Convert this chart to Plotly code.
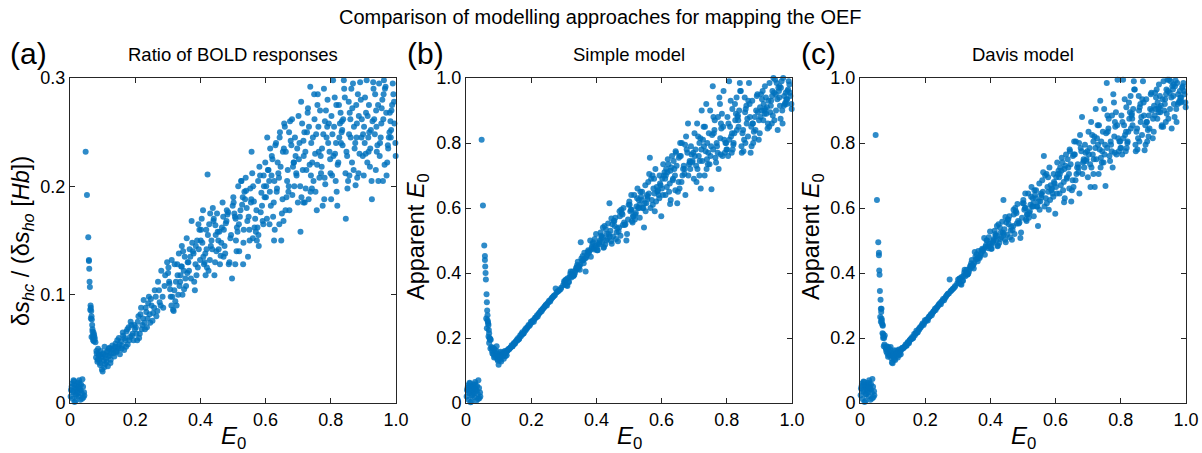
import plotly.graph_objects as go

# ---------------- data ----------------
e0 = [
    # low cluster
    0.003, 0.006, 0.008, 0.010, 0.012, 0.014, 0.016, 0.018, 0.020, 0.022,
    0.024, 0.026, 0.028, 0.030, 0.032, 0.034, 0.036, 0.038, 0.041, 0.044,
    0.002, 0.005, 0.009, 0.013, 0.017, 0.021, 0.025, 0.029, 0.033, 0.037,
    0.040, 0.043, 0.011, 0.019, 0.027,
    # spike
    0.048, 0.052, 0.056, 0.058, 0.058, 0.059, 0.060, 0.061, 0.063, 0.064,
    0.065, 0.066, 0.067, 0.068, 0.069, 0.070, 0.071, 0.072, 0.074, 0.076,
    0.062, 0.064, 0.066, 0.069, 0.071, 0.073, 0.075, 0.078,
    # knee cluster
    0.080, 0.082, 0.084, 0.086, 0.088, 0.090, 0.092, 0.094, 0.096, 0.098,
    0.100, 0.102, 0.104, 0.106, 0.108, 0.110, 0.113, 0.116, 0.119, 0.122,
    0.125, 0.128,
    0.081, 0.085, 0.089, 0.093, 0.097, 0.101, 0.105, 0.109, 0.112, 0.115,
    0.118, 0.121, 0.124, 0.127, 0.130,
    # 0.13-0.2
    0.132, 0.136, 0.140, 0.143, 0.147, 0.150, 0.153, 0.156, 0.160, 0.163,
    0.166, 0.170, 0.173, 0.177, 0.180, 0.184, 0.188, 0.192, 0.195, 0.199,
    0.134, 0.138, 0.142, 0.145, 0.149, 0.152, 0.158, 0.162, 0.168, 0.172,
    0.176, 0.182, 0.186, 0.190, 0.197,
    # 0.2-0.3
    0.202, 0.206, 0.210, 0.214, 0.218, 0.222, 0.226, 0.230, 0.234, 0.238,
    0.242, 0.246, 0.250, 0.255, 0.260, 0.265, 0.270, 0.275, 0.280, 0.286,
    0.292, 0.298,
    0.204, 0.208, 0.212, 0.216, 0.220, 0.224, 0.228, 0.232, 0.236, 0.240,
    0.244, 0.248, 0.253, 0.258, 0.263, 0.268, 0.273, 0.278, 0.284, 0.290,
    # 0.3-0.4
    0.309, 0.302, 0.316, 0.305, 0.312, 0.323, 0.330, 0.320, 0.334, 0.327,
    0.349, 0.338, 0.345, 0.352, 0.341, 0.356, 0.367, 0.360, 0.371, 0.363,
    0.383, 0.375, 0.392, 0.379, 0.388, 0.397,
    0.304, 0.311, 0.301, 0.314, 0.307, 0.329, 0.318, 0.325, 0.332, 0.321,
    0.336, 0.347, 0.339, 0.350, 0.343, 0.361, 0.354, 0.369, 0.358, 0.365,
    0.377, 0.385, 0.373, 0.386, 0.381, 0.394, 0.390, 0.399, 0.395, 0.343,
    # 0.4-0.5
    0.401, 0.411, 0.404, 0.415, 0.408, 0.425, 0.418, 0.432, 0.422, 0.429,
    0.440, 0.447, 0.436, 0.451, 0.443, 0.466, 0.455, 0.462, 0.470, 0.458,
    0.474, 0.487, 0.478, 0.492, 0.483, 0.497,
    0.409, 0.402, 0.416, 0.406, 0.413, 0.423, 0.430, 0.420, 0.434, 0.427,
    0.449, 0.438, 0.445, 0.453, 0.441, 0.456, 0.468, 0.460, 0.472, 0.464,
    0.485, 0.476, 0.494, 0.480, 0.489, 0.499, 0.419, 0.446, 0.471, 0.481,
    # 0.5-0.6
    0.504, 0.511, 0.501, 0.514, 0.507, 0.528, 0.518, 0.525, 0.532, 0.521,
    0.535, 0.546, 0.539, 0.550, 0.542, 0.561, 0.553, 0.568, 0.557, 0.564,
    0.575, 0.583, 0.572, 0.587, 0.579, 0.595, 0.591, 0.599,
    0.512, 0.502, 0.509, 0.516, 0.506, 0.519, 0.530, 0.523, 0.533, 0.526,
    0.544, 0.537, 0.551, 0.540, 0.548, 0.559, 0.566, 0.555, 0.570, 0.562,
    0.585, 0.573, 0.581, 0.589, 0.577, 0.593, 0.597, 0.508, 0.531, 0.556,
    0.578, 0.594,
    # 0.6-0.7
    0.602, 0.612, 0.605, 0.616, 0.609, 0.626, 0.619, 0.634, 0.623, 0.630,
    0.641, 0.648, 0.637, 0.652, 0.644, 0.666, 0.655, 0.662, 0.670, 0.659,
    0.673, 0.684, 0.677, 0.688, 0.681, 0.699, 0.692, 0.695,
    0.607, 0.601, 0.614, 0.604, 0.611, 0.621, 0.628, 0.618, 0.632, 0.625,
    0.646, 0.635, 0.643, 0.650, 0.639, 0.653, 0.664, 0.657, 0.668, 0.661,
    0.679, 0.671, 0.686, 0.675, 0.682, 0.690, 0.694, 0.697, 0.613, 0.627,
    0.642, 0.656, 0.672, 0.687,
    # 0.7-0.8
    0.704, 0.710, 0.701, 0.714, 0.707, 0.727, 0.717, 0.723, 0.730, 0.720,
    0.733, 0.743, 0.737, 0.747, 0.740, 0.757, 0.750, 0.763, 0.753, 0.760,
    0.770, 0.777, 0.767, 0.780, 0.773, 0.794, 0.783, 0.790, 0.798, 0.787,
    0.702, 0.712, 0.706, 0.716, 0.709, 0.725, 0.719, 0.732, 0.722, 0.729,
    0.739, 0.745, 0.735, 0.749, 0.742, 0.762, 0.752, 0.759, 0.765, 0.755,
    0.769, 0.779, 0.772, 0.782, 0.775, 0.792, 0.785, 0.799, 0.789, 0.796,
    0.716, 0.738, 0.758, 0.781,
    # 0.8-0.9
    0.810, 0.801, 0.807, 0.813, 0.804, 0.817, 0.826, 0.820, 0.830, 0.823,
    0.840, 0.833, 0.846, 0.836, 0.843, 0.853, 0.860, 0.850, 0.863, 0.856,
    0.876, 0.866, 0.873, 0.880, 0.870, 0.883, 0.894, 0.886, 0.898, 0.890,
    0.808, 0.802, 0.815, 0.805, 0.812, 0.821, 0.828, 0.818, 0.831, 0.825,
    0.845, 0.835, 0.841, 0.848, 0.838, 0.851, 0.861, 0.855, 0.865, 0.858,
    0.875, 0.868, 0.881, 0.871, 0.878, 0.888, 0.895, 0.885, 0.899, 0.892,
    0.816, 0.834, 0.857, 0.879,
    # 0.9-1.0
    0.904, 0.910, 0.901, 0.913, 0.907, 0.926, 0.917, 0.923, 0.930, 0.920,
    0.933, 0.943, 0.936, 0.946, 0.940, 0.956, 0.950, 0.963, 0.953, 0.960,
    0.970, 0.976, 0.966, 0.980, 0.973, 0.994, 0.983, 0.990, 0.998, 0.986,
    0.902, 0.912, 0.905, 0.915, 0.908, 0.925, 0.918, 0.931, 0.921, 0.928,
    0.938, 0.945, 0.935, 0.948, 0.941, 0.961, 0.951, 0.958, 0.965, 0.955,
    0.968, 0.978, 0.971, 0.981, 0.975, 0.992, 0.985, 0.999, 0.988, 0.995,
    0.916, 0.939, 0.962, 0.984,
]

ratio_bold = [
    # low cluster
    0.012, 0.018, 0.004, 0.010, 0.020, 0.001, 0.014, 0.008, 0.016, 0.011,
    0.019, 0.006, 0.021, 0.013, 0.003, 0.017, 0.009, 0.022, 0.005, 0.007,
    0.006, 0.015, 0.011, 0.017, 0.002, 0.013, 0.009, 0.018, 0.012, 0.004,
    0.015, 0.010, 0.021, 0.007, 0.014,
    # spike
    0.232, 0.192, 0.153, 0.132, 0.131, 0.124, 0.112, 0.107, 0.090, 0.088,
    0.085, 0.080, 0.077, 0.072, 0.066, 0.062, 0.060, 0.065, 0.063, 0.059,
    0.086, 0.078, 0.061, 0.068, 0.058, 0.057, 0.061, 0.056,
    # knee
    0.042, 0.046, 0.038, 0.050, 0.044, 0.040, 0.035, 0.048, 0.043, 0.031,
    0.029, 0.045, 0.039, 0.052, 0.036, 0.041, 0.047, 0.034, 0.050, 0.044,
    0.040, 0.049,
    0.048, 0.040, 0.045, 0.037, 0.042, 0.046, 0.033, 0.044, 0.038, 0.048,
    0.043, 0.051, 0.037, 0.046, 0.053,
    # 0.13-0.2
    0.050, 0.043, 0.055, 0.047, 0.052, 0.060, 0.045, 0.057, 0.053, 0.062,
    0.049, 0.058, 0.066, 0.054, 0.070, 0.061, 0.072, 0.064, 0.058, 0.068,
    0.046, 0.052, 0.048, 0.058, 0.050, 0.054, 0.050, 0.065, 0.060, 0.052,
    0.068, 0.058, 0.075, 0.062, 0.072,
    # 0.2-0.3
    0.070, 0.058, 0.080, 0.064, 0.088, 0.072, 0.095, 0.068, 0.084, 0.078,
    0.098, 0.074, 0.090, 0.083, 0.104, 0.080, 0.112, 0.093, 0.122, 0.088,
    0.118, 0.130,
    0.064, 0.075, 0.060, 0.082, 0.068, 0.078, 0.074, 0.088, 0.070, 0.092,
    0.082, 0.096, 0.076, 0.088, 0.098, 0.085, 0.104, 0.090, 0.098, 0.108,
    # 0.3-0.4
    0.098, 0.125, 0.086, 0.110, 0.132, 0.094, 0.118, 0.104, 0.138, 0.090,
    0.122, 0.112, 0.100, 0.135, 0.126, 0.108, 0.142, 0.120, 0.115, 0.130,
    0.104, 0.148, 0.125, 0.138, 0.118, 0.160,
    0.112, 0.090, 0.120, 0.098, 0.105, 0.128, 0.085, 0.112, 0.100, 0.128,
    0.108, 0.140, 0.118, 0.105, 0.145, 0.130, 0.115, 0.135, 0.152, 0.122,
    0.140, 0.128, 0.168, 0.145, 0.112, 0.165, 0.150, 0.132, 0.142, 0.126,
    # 0.4-0.5
    0.150, 0.128, 0.170, 0.138, 0.178, 0.122, 0.160, 0.145, 0.211, 0.132,
    0.168, 0.155, 0.142, 0.175, 0.118, 0.162, 0.150, 0.136, 0.172, 0.158,
    0.145, 0.128, 0.166, 0.152, 0.174, 0.115,
    0.135, 0.160, 0.118, 0.148, 0.130, 0.155, 0.175, 0.125, 0.150, 0.165,
    0.140, 0.180, 0.130, 0.158, 0.170, 0.142, 0.185, 0.128, 0.160, 0.148,
    0.176, 0.138, 0.155, 0.168, 0.130, 0.182, 0.142, 0.164, 0.135, 0.178,
    # 0.5-0.6
    0.175, 0.140, 0.190, 0.158, 0.128, 0.183, 0.165, 0.205, 0.148, 0.172,
    0.195, 0.135, 0.208, 0.160, 0.180, 0.152, 0.198, 0.170, 0.232, 0.186,
    0.162, 0.210, 0.178, 0.194, 0.145, 0.200, 0.168, 0.222,
    0.162, 0.185, 0.150, 0.200, 0.172, 0.140, 0.190, 0.178, 0.160, 0.205,
    0.168, 0.188, 0.150, 0.196, 0.172, 0.212, 0.162, 0.185, 0.158, 0.200,
    0.176, 0.150, 0.218, 0.182, 0.205, 0.165, 0.190, 0.170, 0.128, 0.188,
    0.155, 0.210,
    # 0.6-0.7
    0.200, 0.165, 0.245, 0.182, 0.215, 0.150, 0.228, 0.195, 0.172, 0.238,
    0.208, 0.150, 0.222, 0.188, 0.250, 0.205, 0.168, 0.232, 0.195, 0.255,
    0.178, 0.218, 0.242, 0.200, 0.262, 0.185, 0.228, 0.210,
    0.215, 0.190, 0.235, 0.170, 0.205, 0.225, 0.160, 0.210, 0.240, 0.185,
    0.218, 0.198, 0.245, 0.175, 0.212, 0.232, 0.190, 0.258, 0.215, 0.178,
    0.238, 0.200, 0.222, 0.260, 0.192, 0.245, 0.212, 0.235, 0.195, 0.205,
    0.165, 0.235, 0.250, 0.222,
    # 0.7-0.8
    0.240, 0.190, 0.265, 0.215, 0.158, 0.250, 0.228, 0.198, 0.272, 0.185,
    0.255, 0.222, 0.292, 0.205, 0.240, 0.178, 0.262, 0.232, 0.195, 0.285,
    0.212, 0.248, 0.270, 0.188, 0.235, 0.258, 0.202, 0.280, 0.225, 0.245,
    0.225, 0.258, 0.200, 0.242, 0.278, 0.215, 0.250, 0.188, 0.232, 0.268,
    0.210, 0.245, 0.220, 0.285, 0.198, 0.255, 0.230, 0.275, 0.208, 0.248,
    0.228, 0.290, 0.218, 0.260, 0.182, 0.240, 0.270, 0.212, 0.255, 0.232,
    0.185, 0.195, 0.220, 0.208,
    # 0.8-0.9
    0.255, 0.188, 0.298, 0.230, 0.210, 0.275, 0.245, 0.182, 0.268, 0.222,
    0.298, 0.250, 0.170, 0.238, 0.282, 0.205, 0.262, 0.228, 0.290, 0.248,
    0.201, 0.272, 0.235, 0.258, 0.215, 0.285, 0.245, 0.265, 0.228, 0.296,
    0.228, 0.265, 0.205, 0.248, 0.282, 0.220, 0.258, 0.195, 0.240, 0.275,
    0.212, 0.252, 0.290, 0.232, 0.262, 0.198, 0.245, 0.278, 0.222, 0.268,
    0.240, 0.295, 0.208, 0.255, 0.275, 0.230, 0.262, 0.212, 0.248, 0.280,
    0.240, 0.260, 0.210, 0.245,
    # 0.9-1.0
    0.240, 0.298, 0.210, 0.265, 0.230, 0.188, 0.275, 0.252, 0.296, 0.218,
    0.262, 0.238, 0.285, 0.205, 0.255, 0.272, 0.228, 0.298, 0.245, 0.205,
    0.268, 0.235, 0.290, 0.250, 0.222, 0.278, 0.260, 0.295, 0.240, 0.270,
    0.255, 0.222, 0.282, 0.245, 0.268, 0.205, 0.250, 0.290, 0.235, 0.260,
    0.215, 0.275, 0.248, 0.295, 0.232, 0.262, 0.240, 0.280, 0.220, 0.258,
    0.292, 0.245, 0.210, 0.268, 0.238, 0.285, 0.252, 0.228, 0.275, 0.258,
    0.232, 0.270, 0.285, 0.245,
]

simple_model = [
    # low cluster
    0.040, 0.055, 0.010, 0.030, 0.060, 0.002, 0.045, 0.025, 0.050, 0.035,
    0.058, 0.018, 0.065, 0.042, 0.008, 0.052, 0.028, 0.070, 0.015, 0.020,
    0.020, 0.048, 0.036, 0.052, 0.005, 0.040, 0.030, 0.056, 0.038, 0.012,
    0.046, 0.032, 0.062, 0.022, 0.044,
    # spike
    0.810, 0.608, 0.485, 0.452, 0.440, 0.420, 0.400, 0.380, 0.335, 0.310,
    0.285, 0.270, 0.250, 0.245, 0.240, 0.225, 0.215, 0.200, 0.198, 0.195,
    0.260, 0.230, 0.255, 0.205, 0.185, 0.195, 0.168, 0.172,
    # knee
    0.160, 0.170, 0.150, 0.140, 0.165, 0.155, 0.145, 0.175, 0.135, 0.130,
    0.118, 0.148, 0.138, 0.158, 0.128, 0.150, 0.143, 0.136, 0.160, 0.152,
    0.147, 0.163,
    0.152, 0.168, 0.142, 0.160, 0.150, 0.140, 0.132, 0.155, 0.146, 0.150,
    0.158, 0.144, 0.156, 0.161, 0.166,
    # 0.13-0.2
    0.165, 0.170, 0.178, 0.175, 0.185, 0.182, 0.190, 0.195, 0.200, 0.198,
    0.208, 0.212, 0.218, 0.215, 0.225, 0.230, 0.232, 0.240, 0.238, 0.250,
    0.168, 0.172, 0.175, 0.180, 0.183, 0.188, 0.192, 0.196, 0.205, 0.210,
    0.214, 0.222, 0.228, 0.235, 0.242,
    # 0.2-0.3
    0.248, 0.255, 0.258, 0.262, 0.270, 0.272, 0.278, 0.285, 0.288, 0.292,
    0.298, 0.303, 0.307, 0.315, 0.318, 0.325, 0.330, 0.352, 0.342, 0.348,
    0.355, 0.362,
    0.252, 0.250, 0.262, 0.265, 0.266, 0.276, 0.280, 0.282, 0.290, 0.295,
    0.300, 0.300, 0.310, 0.312, 0.322, 0.328, 0.332, 0.340, 0.345, 0.350,
    # 0.3-0.4
    0.362, 0.370, 0.372, 0.378, 0.384, 0.386, 0.392, 0.398, 0.400, 0.405,
    0.410, 0.415, 0.420, 0.495, 0.425, 0.438, 0.405, 0.440, 0.455, 0.462,
    0.450, 0.470, 0.478, 0.468, 0.490, 0.485,
    0.365, 0.360, 0.375, 0.372, 0.380, 0.390, 0.388, 0.395, 0.394, 0.405,
    0.408, 0.420, 0.418, 0.425, 0.435, 0.430, 0.445, 0.448, 0.452, 0.445,
    0.462, 0.475, 0.465, 0.480, 0.500, 0.472, 0.495, 0.520, 0.505, 0.412,
    # 0.4-0.5
    0.480, 0.500, 0.470, 0.515, 0.488, 0.545, 0.495, 0.520, 0.478, 0.535,
    0.615, 0.490, 0.552, 0.512, 0.530, 0.498, 0.560, 0.525, 0.540, 0.570,
    0.515, 0.548, 0.585, 0.500, 0.600, 0.565,
    0.495, 0.470, 0.510, 0.490, 0.525, 0.480, 0.500, 0.540, 0.505, 0.488,
    0.550, 0.520, 0.498, 0.560, 0.512, 0.545, 0.528, 0.505, 0.575, 0.538,
    0.555, 0.595, 0.520, 0.580, 0.550, 0.610, 0.510, 0.568, 0.590, 0.548,
    # 0.5-0.6
    0.590, 0.555, 0.620, 0.575, 0.640, 0.600, 0.565, 0.630, 0.610, 0.585,
    0.650, 0.540, 0.625, 0.670, 0.600, 0.645, 0.615, 0.690, 0.635, 0.755,
    0.660, 0.620, 0.700, 0.650, 0.590, 0.675, 0.640, 0.575,
    0.575, 0.610, 0.560, 0.640, 0.595, 0.580, 0.625, 0.605, 0.570, 0.660,
    0.600, 0.635, 0.590, 0.650, 0.615, 0.680, 0.600, 0.640, 0.625, 0.705,
    0.665, 0.610, 0.720, 0.655, 0.690, 0.630, 0.670, 0.595, 0.600, 0.628,
    0.645, 0.700,
    # 0.6-0.7
    0.690, 0.640, 0.735, 0.665, 0.710, 0.612, 0.750, 0.685, 0.650, 0.725,
    0.700, 0.615, 0.745, 0.680, 0.770, 0.720, 0.660, 0.800, 0.705, 0.760,
    0.640, 0.735, 0.780, 0.720, 0.860, 0.690, 0.765, 0.745,
    0.700, 0.660, 0.720, 0.640, 0.690, 0.735, 0.625, 0.710, 0.760, 0.675,
    0.730, 0.690, 0.775, 0.650, 0.720, 0.755, 0.700, 0.800, 0.730, 0.680,
    0.770, 0.720, 0.745, 0.820, 0.700, 0.790, 0.740, 0.770, 0.700, 0.715,
    0.655, 0.760, 0.795, 0.740,
    # 0.7-0.8
    0.780, 0.720, 0.830, 0.760, 0.680, 0.810, 0.745, 0.900, 0.790, 0.660,
    0.850, 0.770, 0.920, 0.735, 0.800, 0.975, 0.760, 0.870, 0.658, 0.830,
    0.790, 0.940, 0.740, 0.815, 0.880, 0.770, 0.845, 0.960, 0.800, 0.760,
    0.760, 0.820, 0.730, 0.800, 0.860, 0.745, 0.815, 0.700, 0.780, 0.850,
    0.750, 0.830, 0.775, 0.900, 0.735, 0.840, 0.790, 0.880, 0.755, 0.825,
    0.800, 0.920, 0.770, 0.860, 0.720, 0.810, 0.890, 0.780, 0.850, 0.800,
    0.700, 0.720, 0.780, 0.765,
    # 0.8-0.9
    0.850, 0.780, 0.990, 0.820, 0.760, 0.905, 0.870, 0.795, 0.940, 0.830,
    0.985, 0.880, 0.770, 0.850, 0.960, 0.810, 0.915, 0.840, 0.875, 0.895,
    0.790, 0.930, 0.770, 0.860, 0.920, 0.835, 0.950, 0.880, 0.810, 0.900,
    0.810, 0.880, 0.770, 0.860, 0.930, 0.800, 0.890, 0.780, 0.840, 0.920,
    0.790, 0.870, 0.960, 0.830, 0.900, 0.775, 0.860, 0.940, 0.820, 0.905,
    0.850, 0.985, 0.800, 0.880, 0.930, 0.840, 0.895, 0.815, 0.870, 0.945,
    0.830, 0.885, 0.800, 0.860,
    # 0.9-1.0
    0.880, 0.960, 0.830, 0.920, 0.900, 0.860, 0.975, 0.910, 0.850, 0.940,
    0.895, 1.000, 0.930, 0.870, 0.960, 0.840, 0.950, 0.915, 0.985, 0.960,
    0.900, 0.945, 0.970, 0.925, 1.000, 0.955, 0.935, 0.990, 0.920, 0.960,
    0.910, 0.870, 0.950, 0.900, 0.935, 0.845, 0.905, 0.985, 0.890, 0.930,
    0.860, 0.955, 0.915, 0.995, 0.885, 0.940, 0.900, 0.970, 0.875, 0.935,
    0.990, 0.920, 0.860, 0.955, 0.915, 0.980, 0.935, 0.905, 0.965, 0.945,
    0.890, 0.945, 0.975, 0.920,
]

davis_model = [
    # low cluster
    0.045, 0.060, 0.012, 0.035, 0.065, 0.003, 0.050, 0.028, 0.055, 0.040,
    0.062, 0.020, 0.070, 0.048, 0.010, 0.058, 0.032, 0.074, 0.018, 0.024,
    0.024, 0.052, 0.040, 0.056, 0.006, 0.044, 0.034, 0.060, 0.042, 0.014,
    0.050, 0.036, 0.066, 0.026, 0.048,
    # spike
    0.825, 0.625, 0.495, 0.462, 0.455, 0.408, 0.395, 0.345, 0.318, 0.290,
    0.280, 0.260, 0.255, 0.245, 0.240, 0.238, 0.212, 0.205, 0.200, 0.208,
    0.265, 0.250, 0.290, 0.215, 0.200, 0.175, 0.180, 0.170,
    # knee
    0.165, 0.175, 0.152, 0.142, 0.170, 0.158, 0.148, 0.172, 0.138, 0.125,
    0.122, 0.150, 0.140, 0.162, 0.132, 0.155, 0.145, 0.140, 0.165, 0.155,
    0.150, 0.168,
    0.158, 0.172, 0.146, 0.164, 0.154, 0.145, 0.135, 0.160, 0.150, 0.154,
    0.162, 0.148, 0.160, 0.165, 0.170,
    # 0.13-0.2
    0.168, 0.172, 0.180, 0.176, 0.188, 0.184, 0.194, 0.198, 0.203, 0.200,
    0.212, 0.214, 0.222, 0.218, 0.228, 0.233, 0.236, 0.245, 0.240, 0.255,
    0.170, 0.175, 0.178, 0.184, 0.186, 0.192, 0.196, 0.200, 0.208, 0.214,
    0.218, 0.226, 0.232, 0.240, 0.246,
    # 0.2-0.3
    0.252, 0.258, 0.262, 0.266, 0.274, 0.276, 0.282, 0.290, 0.292, 0.296,
    0.303, 0.308, 0.312, 0.320, 0.322, 0.330, 0.336, 0.380, 0.346, 0.352,
    0.360, 0.368,
    0.256, 0.254, 0.266, 0.270, 0.270, 0.280, 0.285, 0.286, 0.294, 0.300,
    0.305, 0.304, 0.315, 0.316, 0.326, 0.334, 0.338, 0.344, 0.350, 0.356,
    # 0.3-0.4
    0.366, 0.372, 0.376, 0.382, 0.388, 0.390, 0.396, 0.402, 0.404, 0.410,
    0.414, 0.420, 0.424, 0.465, 0.430, 0.442, 0.446, 0.444, 0.460, 0.468,
    0.456, 0.475, 0.482, 0.472, 0.500, 0.490,
    0.370, 0.364, 0.380, 0.376, 0.384, 0.395, 0.392, 0.400, 0.398, 0.410,
    0.412, 0.425, 0.422, 0.430, 0.440, 0.436, 0.450, 0.452, 0.458, 0.450,
    0.468, 0.480, 0.470, 0.485, 0.508, 0.476, 0.500, 0.528, 0.510, 0.418,
    # 0.4-0.5
    0.485, 0.505, 0.475, 0.520, 0.492, 0.550, 0.500, 0.525, 0.482, 0.540,
    0.625, 0.495, 0.558, 0.518, 0.535, 0.502, 0.565, 0.530, 0.545, 0.575,
    0.520, 0.552, 0.590, 0.508, 0.612, 0.570,
    0.500, 0.475, 0.515, 0.495, 0.530, 0.485, 0.505, 0.545, 0.510, 0.492,
    0.555, 0.525, 0.502, 0.565, 0.518, 0.550, 0.532, 0.510, 0.580, 0.542,
    0.560, 0.600, 0.525, 0.585, 0.555, 0.615, 0.515, 0.572, 0.595, 0.552,
    # 0.5-0.6
    0.595, 0.560, 0.625, 0.580, 0.645, 0.605, 0.570, 0.635, 0.615, 0.590,
    0.655, 0.545, 0.630, 0.675, 0.605, 0.650, 0.620, 0.700, 0.640, 0.760,
    0.665, 0.625, 0.705, 0.655, 0.595, 0.680, 0.645, 0.582,
    0.580, 0.615, 0.565, 0.645, 0.600, 0.585, 0.630, 0.610, 0.575, 0.665,
    0.605, 0.640, 0.595, 0.655, 0.620, 0.685, 0.605, 0.645, 0.630, 0.710,
    0.670, 0.615, 0.725, 0.660, 0.695, 0.635, 0.675, 0.600, 0.605, 0.632,
    0.650, 0.705,
    # 0.6-0.7
    0.695, 0.645, 0.740, 0.670, 0.715, 0.618, 0.755, 0.690, 0.655, 0.730,
    0.705, 0.620, 0.750, 0.685, 0.775, 0.725, 0.665, 0.805, 0.710, 0.765,
    0.645, 0.740, 0.785, 0.725, 0.880, 0.695, 0.770, 0.750,
    0.705, 0.665, 0.725, 0.645, 0.695, 0.740, 0.630, 0.715, 0.765, 0.680,
    0.735, 0.695, 0.780, 0.655, 0.725, 0.760, 0.705, 0.805, 0.735, 0.685,
    0.775, 0.725, 0.750, 0.825, 0.705, 0.795, 0.745, 0.775, 0.705, 0.720,
    0.660, 0.765, 0.800, 0.745,
    # 0.7-0.8
    0.785, 0.725, 0.835, 0.765, 0.665, 0.815, 0.750, 0.905, 0.795, 0.665,
    0.855, 0.775, 0.930, 0.740, 0.805, 0.985, 0.765, 0.875, 0.668, 0.835,
    0.795, 0.950, 0.745, 0.820, 0.885, 0.775, 0.850, 0.995, 0.805, 0.765,
    0.765, 0.825, 0.735, 0.805, 0.865, 0.750, 0.820, 0.705, 0.785, 0.855,
    0.755, 0.835, 0.780, 0.905, 0.740, 0.845, 0.795, 0.885, 0.760, 0.830,
    0.805, 0.925, 0.775, 0.865, 0.725, 0.815, 0.895, 0.785, 0.855, 0.805,
    0.705, 0.725, 0.785, 0.770,
    # 0.8-0.9
    0.855, 0.785, 0.995, 0.825, 0.765, 0.910, 0.875, 0.800, 0.945, 0.835,
    0.990, 0.885, 0.775, 0.855, 0.965, 0.815, 0.920, 0.845, 0.880, 0.900,
    0.795, 0.935, 0.778, 0.865, 0.925, 0.840, 0.955, 0.885, 0.815, 0.905,
    0.815, 0.885, 0.775, 0.865, 0.935, 0.805, 0.895, 0.785, 0.845, 0.925,
    0.795, 0.875, 0.965, 0.835, 0.905, 0.780, 0.865, 0.945, 0.825, 0.910,
    0.855, 0.990, 0.805, 0.885, 0.935, 0.845, 0.900, 0.820, 0.875, 0.950,
    0.835, 0.890, 0.805, 0.865,
    # 0.9-1.0
    0.885, 0.965, 0.835, 0.925, 0.905, 0.855, 0.980, 0.915, 0.850, 0.945,
    0.900, 0.995, 0.935, 0.875, 0.965, 0.845, 0.955, 0.920, 0.990, 0.965,
    0.905, 0.950, 0.975, 0.930, 0.985, 0.960, 0.940, 0.975, 0.925, 0.928,
    0.915, 0.875, 0.955, 0.905, 0.940, 0.850, 0.910, 0.990, 0.895, 0.935,
    0.865, 0.960, 0.920, 0.995, 0.890, 0.945, 0.905, 0.975, 0.880, 0.940,
    0.992, 0.925, 0.865, 0.960, 0.920, 0.985, 0.940, 0.910, 0.970, 0.950,
    0.895, 0.950, 0.980, 0.925,
]

x_tickvals = [0, 0.2, 0.4, 0.6, 0.8, 1.0]
x_ticktext = ["0", "0.2", "0.4", "0.6", "0.8", "1.0"]
ya_tickvals = [0, 0.1, 0.2, 0.3]
ya_ticktext = ["0", "0.1", "0.2", "0.3"]
ybc_tickvals = [0, 0.2, 0.4, 0.6, 0.8, 1.0]
ybc_ticktext = ["0", "0.2", "0.4", "0.6", "0.8", "1.0"]

main_title = "Comparison of modelling approaches for mapping the OEF"
panel_titles = ["Ratio of BOLD responses", "Simple model", "Davis model"]
panel_letters = ["(a)", "(b)", "(c)"]

# ---------------- layout helpers ----------------
W, H = 1202, 453
FONT = "Liberation Sans, Arial, Helvetica, sans-serif"
BLUE = "rgba(0,114,189,0.82)"
AX = "#262626"


def px(x):
    return x / W


def py(y):
    return 1 - y / H


boxes = [(70, 396), (466, 792), (860, 1186)]
top_px, bot_px = 78, 403

fig = go.Figure()
series = [ratio_bold, simple_model, davis_model]
for i, ys in enumerate(series):
    sfx = "" if i == 0 else str(i + 1)
    fig.add_trace(go.Scatter(
        x=e0, y=ys, mode="markers",
        marker=dict(size=6, color=BLUE, line=dict(width=0)),
        xaxis="x" + sfx, yaxis="y" + sfx,
        showlegend=False, hoverinfo="skip", cliponaxis=False,
    ))

common = dict(
    showline=True, linecolor=AX, linewidth=1, mirror="ticks",
    ticks="inside", ticklen=5, tickwidth=1, tickcolor=AX,
    showgrid=False, zeroline=False, automargin=False,
    tickfont=dict(family=FONT, size=18, color="black"),
)

layout = dict(
    template="none",
    width=W, height=H, autosize=False,
    margin=dict(l=0, r=0, t=0, b=0, pad=0),
    paper_bgcolor="white", plot_bgcolor="white",
    font=dict(family=FONT, color="black"),
    showlegend=False,
)

for i, (l, r) in enumerate(boxes):
    sfx = "" if i == 0 else str(i + 1)
    layout["xaxis" + sfx] = dict(
        common, domain=[px(l), px(r)], range=[0, 1],
        tickvals=x_tickvals, ticktext=x_ticktext,
        anchor="y" + sfx,
    )
    if i == 0:
        yv, yt, yr = ya_tickvals, ya_ticktext, [0, 0.3]
    else:
        yv, yt, yr = ybc_tickvals, ybc_ticktext, [0, 1]
    layout["yaxis" + sfx] = dict(
        common, domain=[py(bot_px), py(top_px)], range=yr,
        tickvals=yv, ticktext=yt, anchor="x" + sfx,
    )

fig.update_layout(**layout)

ann = []
ann.append(dict(text=main_title, x=px(600), y=py(17), xref="paper", yref="paper",
                showarrow=False, font=dict(family=FONT, size=20),
                xanchor="center", yanchor="middle"))
for i, (l, r) in enumerate(boxes):
    cx = (l + r) / 2
    ann.append(dict(text=panel_titles[i], x=px(cx), y=py(55), xref="paper", yref="paper",
                    showarrow=False, font=dict(family=FONT, size=18.5),
                    xanchor="center", yanchor="middle"))
    ann.append(dict(text="<i>E</i><sub>0</sub>", x=px(cx), y=py(437), xref="paper", yref="paper",
                    showarrow=False, font=dict(family=FONT, size=24),
                    xanchor="center", yanchor="middle"))
letter_x = [8, 405, 799]
for i, lx in enumerate(letter_x):
    ann.append(dict(text=panel_letters[i], x=px(lx), y=py(53), xref="paper", yref="paper",
                    showarrow=False, font=dict(family=FONT, size=30),
                    xanchor="left", yanchor="middle"))
ann.append(dict(text="δ<i>s</i><sub><i>hc</i></sub> / (δ<i>s</i><sub><i>ho</i></sub> [<i>Hb</i>])",
                x=px(22), y=py(241), xref="paper", yref="paper", textangle=-90,
                showarrow=False, font=dict(family=FONT, size=23.5),
                xanchor="center", yanchor="middle"))
for xc in [417, 812]:
    ann.append(dict(text="Apparent <i>E</i><sub>0</sub>", x=px(xc), y=py(237),
                    xref="paper", yref="paper", textangle=-90,
                    showarrow=False, font=dict(family=FONT, size=23.5),
                    xanchor="center", yanchor="middle"))
fig.update_layout(annotations=ann)

fig.write_html("out.html")
